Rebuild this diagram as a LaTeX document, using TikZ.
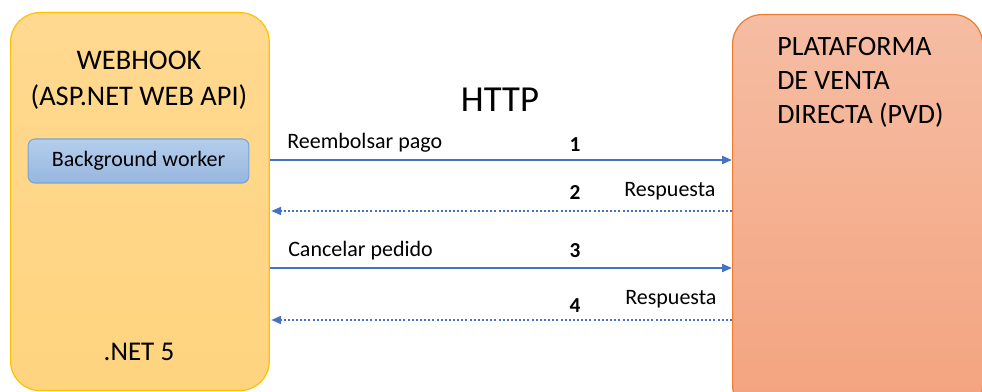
\documentclass[tikz,border=0pt]{standalone}
\usepackage{fontspec}
\setmainfont{Carlito}
\usetikzlibrary{arrows.meta}
\definecolor{msgblue}{HTML}{4472C4}
\definecolor{goldedge}{HTML}{FFC000}
\definecolor{goldtop}{HTML}{FFD990}
\definecolor{goldbot}{HTML}{FFD47F}
\definecolor{orangeedge}{HTML}{ED7D31}
\definecolor{salmontop}{HTML}{F5BDA3}
\definecolor{salmonbot}{HTML}{F4A37E}
\definecolor{workertop}{HTML}{B4CEEC}
\definecolor{workerbot}{HTML}{97B6DF}
\definecolor{workeredge}{HTML}{7AA3D6}
\tikzset{
  sysbox/.style={rounded corners=22pt, line width=0.9pt, anchor=north west, inner sep=0pt},
  bigtext/.style={font=\fontsize{21.3}{26}\selectfont, inner sep=0pt},
  msgtext/.style={font=\fontsize{16.5}{19}\selectfont, inner sep=0pt},
  stepnum/.style={font=\bfseries\fontsize{16}{19}\selectfont, inner sep=0pt},
  request/.style={draw=msgblue, line width=1.5pt, -{Triangle[length=7.5pt,width=6pt]}},
  reply/.style={draw=msgblue, line width=1.5pt, dash pattern=on 1.5pt off 1.6pt, -{Triangle[length=7.5pt,width=6pt]}},
}
\begin{document}
\begin{tikzpicture}[x=0.75pt,y=-0.75pt]
\useasboundingbox (0,0) rectangle (982,392);
\clip (0,0) rectangle (982,392);

% webhook service box
\node[sysbox, draw=goldedge, top color=goldtop, bottom color=goldbot,
      minimum width=194pt, minimum height=283.5pt] (web) at (10,12) {};
\node[bigtext, align=center] (webtitle) at (139,80)
  {WEBHOOK\\[1pt](ASP.NET WEB API)};
\node[rounded corners=5pt, draw=workeredge, line width=0.8pt,
      top color=workertop, bottom color=workerbot,
      minimum width=165.5pt, minimum height=33pt, inner sep=0pt,
      font=\fontsize{16.5}{19}\selectfont] (worker) at (138.5,161) {Background worker};
\node[font=\fontsize{20.3}{24}\selectfont, inner sep=0pt] (dotnet) at (139,352) {.NET 5};

% direct sales platform box
\node[sysbox, draw=orangeedge, top color=salmontop, bottom color=salmonbot,
      minimum width=187.5pt, minimum height=300pt] (pvd) at (732,14) {};
\node[align=left, anchor=north west, inner sep=0pt,
      font=\fontsize{21}{25.5}\selectfont] (pvdtitle) at (777,37)
  {PLATAFORMA\\DE VENTA\\DIRECTA (PVD)};

% protocol label
\node[font=\fontsize{27.5}{32}\selectfont, inner sep=0pt] (http) at (500,100) {HTTP};

% message endpoints on the box edges
\coordinate (w1) at (web.east |- 0,160);
\coordinate (p1) at (pvd.west |- 0,160);
\coordinate (w2) at (web.east |- 0,211);
\coordinate (p2) at (pvd.west |- 0,211);
\coordinate (w3) at (web.east |- 0,268);
\coordinate (p3) at (pvd.west |- 0,268);
\coordinate (w4) at (web.east |- 0,320);
\coordinate (p4) at (pvd.west |- 0,320);

\draw[request] (w1) -- (p1);
\draw[reply]   (p2) -- ([xshift=1pt]w2);
\draw[request] (w3) -- (p3);
\draw[reply]   (p4) -- ([xshift=1pt]w4);

% message labels
\node[msgtext, anchor=west] (m1) at (287,143) {Reembolsar pago};
\node[stepnum] (n1) at (575,145) {1};
\node[stepnum] (n2) at (575,193) {2};
\node[msgtext, anchor=west] (m2) at (624,191) {Respuesta};
\node[msgtext, anchor=west] (m3) at (288,251) {Cancelar pedido};
\node[stepnum] (n3) at (575,251) {3};
\node[msgtext, anchor=west] (m4) at (625,299) {Respuesta};
\node[stepnum] (n4) at (575,306) {4};
\end{tikzpicture}
\end{document}
